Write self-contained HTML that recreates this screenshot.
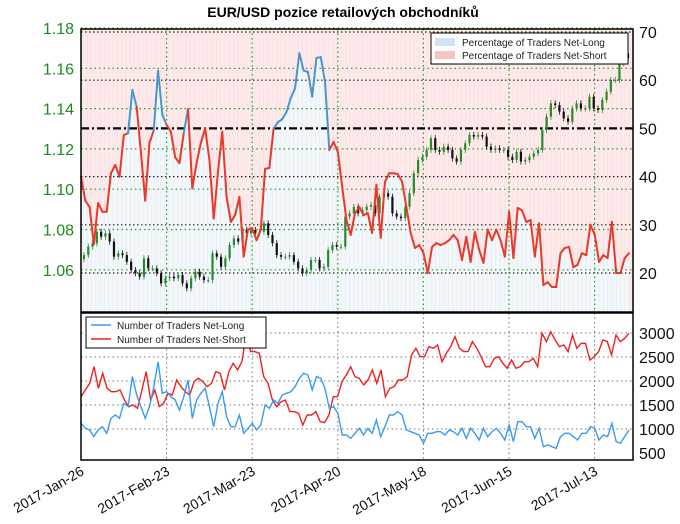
<!DOCTYPE html>
<html><head><meta charset="utf-8"><style>
body{margin:0;background:#fff;width:680px;height:519px;overflow:hidden}
svg text{font-family:"Liberation Sans",sans-serif}
</style></head><body>
<svg id="c" width="680" height="519"></svg>
<script>
const dateLabels=["2017-Jan-26","2017-Feb-23","2017-Mar-23","2017-Apr-20","2017-May-18","2017-Jun-15","2017-Jul-13"];
const leftTicks=[1.06,1.08,1.10,1.12,1.14,1.16,1.18];
const rightTicks=[20,30,40,50,60,70];
const bottomTicks=[500,1000,1500,2000,2500,3000];
const pctLong=[40,35,33.7,26,34.5,32.7,32.7,40.7,42.4,40,48.6,49,58,54.5,45,35,47,49.6,62,52.8,50.7,49.3,44,42.8,49,54,37.6,42.8,47,50,43.4,31.3,41,49.3,35.8,30.6,32,35.8,23.4,29,29.3,26.8,29,41.6,41.8,50,51.3,51.9,53.4,56.3,58.3,65.6,62,61.7,56.6,64.6,64.8,59.6,45.5,47.2,45.1,37.9,31,27.9,32.4,33.7,32,32.4,28.3,38.3,27.3,38.9,40.7,40.7,40.5,38.9,33.7,28.3,25.2,25.8,24.1,20,25.4,26.2,25.8,26.2,26.8,27.9,26.8,22.7,27.5,22.3,28.5,24.8,22.1,29,26.8,29,26.8,23.4,32.7,23.1,33.5,33,30.6,31,23.4,30.3,17.5,18.1,17.1,17.1,24.1,25.2,25.4,21.2,21.7,24.1,23.7,30,27.9,22.3,23.7,23.1,30.6,20,20,23.1,24.1];
const closes=[1.0673,1.0715,1.0732,1.0789,1.0764,1.0781,1.0740,1.0665,1.0682,1.0673,1.0640,1.0599,1.0583,1.0566,1.0657,1.0607,1.0607,1.0583,1.0533,1.0558,1.0566,1.0558,1.0574,1.0533,1.0508,1.0558,1.0591,1.0566,1.0549,1.0549,1.0682,1.0665,1.0615,1.0657,1.0723,1.0756,1.0740,1.0798,1.0781,1.0798,1.0781,1.0789,1.0831,1.0773,1.0732,1.0673,1.0665,1.0665,1.0673,1.0640,1.0607,1.0583,1.0599,1.0649,1.0649,1.0607,1.0615,1.0698,1.0723,1.0715,1.0715,
1.0864,1.0880,1.0913,1.0880,1.0897,1.0913,1.0922,1.0880,1.0963,1.0980,1.0963,1.0880,1.0864,1.0856,1.0913,1.0980,1.1079,1.1145,1.1161,1.1195,1.1253,1.1195,1.1186,1.1211,1.1195,1.1153,1.1137,1.1195,1.1228,1.1269,1.1261,1.1269,1.1261,1.1211,1.1195,1.1203,1.1195,1.1195,1.1161,1.1145,1.1186,1.1137,1.1145,1.1161,1.1178,1.1195,1.1294,1.1360,1.1426,1.1418,1.1385,1.1352,1.1335,1.1401,1.1426,1.1401,1.1401,1.1459,1.1401,1.1393,1.1443,1.1484,1.1542,1.1542,1.1625,1.1674,1.1650];
const netShort=[1674,1813,1952,2299,1848,2160,1848,1778,1778,1813,1605,1466,1501,1431,1813,2195,1605,1813,1466,1535,1744,1709,2021,1882,1778,1709,1987,2056,1987,1882,1952,2195,2160,1813,2195,2369,2230,2403,2994,2612,2612,2577,2091,1952,1605,1466,1570,1605,1362,1362,1327,1084,1292,1292,1362,1153,1133,1292,1674,1674,1987,2126,2299,2091,2056,1917,2021,2230,1952,2230,1674,1848,1882,2021,2021,2091,2542,2681,2507,2507,2716,2681,2751,2403,2577,2716,2924,2681,2612,2612,2820,2681,2507,2299,2299,2473,2507,2369,2264,2438,2264,2299,2403,2403,2473,2299,2994,2820,3028,2855,2716,2751,2612,2959,2681,2785,2785,2438,2507,2612,2855,2820,2542,2959,2820,2890,2994];
const netLong=[1119,1014,980,841,980,1049,910,1223,1292,1223,1535,1466,2091,1709,1466,1223,1466,1882,2403,1744,1778,1674,1605,1396,1674,2021,1223,1605,1744,1848,1466,1049,1535,1778,1258,1049,1049,1292,910,1014,1119,980,1084,1501,1431,1605,1535,1709,1744,1778,1882,2056,2160,2126,1813,2091,2056,1848,1431,1466,1327,876,876,806,910,1014,876,1014,910,1188,841,1049,1292,1292,1362,1292,980,945,910,876,702,910,910,945,945,876,980,945,876,1014,806,1014,910,771,1014,841,945,1014,910,771,1084,737,1153,1153,1049,1049,806,1014,632,667,632,598,841,910,910,841,771,910,910,1049,1014,771,876,841,1119,737,702,841,980];

const NS="http://www.w3.org/2000/svg",svg=document.getElementById('c');
function el(t,a,p){const e=document.createElementNS(NS,t);for(const k in a)e.setAttribute(k,a[k]);(p||svg).appendChild(e);return e;}
const X0=81,X1=633,T0=29,T1=312,B0=313,B1=460;
const yR=v=>32+(70-v)*4.82, yL=p=>28+(1.18-p)*2015, yB=v=>333+(3000-v)/20.83;
const xTick=i=>X0+i*85.6;
const xi=(i,n,a,b)=>a+i*(b-a)/(n-1);
const g=el('g',{});

el('rect',{x:X0,y:T0,width:X1-X0,height:T1-T0,fill:'#fde9e9'},g);
let n=pctLong.length,d=`M${X0},${T1}`;
pctLong.forEach((v,i)=>d+=` L${xi(i,n,X0,629).toFixed(1)},${yR(v).toFixed(1)}`);
d+=` L629,${T1} Z`;
const fa=el('path',{d,fill:'#f1f7fb'},g);

for(let x=X0+2;x<X1;x+=4.3)el('line',{x1:x,x2:x,y1:T0,y2:T1,stroke:'#e0c8c8','stroke-width':0.5,'stroke-opacity':0.35},g);
leftTicks.forEach(p=>el('line',{x1:X0,x2:X1,y1:yL(p),y2:yL(p),stroke:'#2a9a2a','stroke-dasharray':'1.5,3','stroke-width':1.2},g));
rightTicks.forEach(v=>{if(v!==50)el('line',{x1:X0,x2:X1,y1:yR(v),y2:yR(v),stroke:'#222','stroke-dasharray':'1.5,2.5','stroke-width':1.2},g)});
dateLabels.forEach((t,i)=>{const x=xTick(i);el('line',{x1:x,x2:x,y1:T0,y2:T1,stroke:'#2a9a2a','stroke-dasharray':'1.5,3','stroke-width':1.2},g);});
const fl=el('line',{x1:X0,x2:X1,y1:yR(50),y2:yR(50),stroke:'#000','stroke-width':2.2,'stroke-dasharray':'8,3,2,3'},g);

const nc=closes.length;
closes.forEach((c,i)=>{const o=i?closes[i-1]:c-0.002,x=xi(i,nc,X0+3,628),up=c>=o,col=up?'#2a8a2a':'#111';
 const hi=Math.max(o,c)+0.0015,lo=Math.min(o,c)-0.0015;
 const w=el('line',{x1:x,x2:x,y1:yL(hi),y2:yL(lo),stroke:col,'stroke-width':0.8},g);
 
 const r=el('rect',{x:x-1.1,y:Math.min(yL(o),yL(c)),width:2.2,height:Math.max(1,Math.abs(yL(o)-yL(c))),fill:col},g);
 });
for(let i=1;i<n;i++){const a=pctLong[i-1],b=pctLong[i];const s=el('line',{x1:xi(i-1,n,X0,629),y1:yR(a),x2:xi(i,n,X0,629),y2:yR(b),stroke:(a+b)/2>50?'#4a96c8':'#e8392a','stroke-width':2,'stroke-linecap':'round'},g);
 }
el('rect',{x:X0,y:T0,width:X1-X0,height:T1-T0,fill:'none',stroke:'#000','stroke-width':1.5},g);
leftTicks.forEach(p=>{const t=el('text',{x:74,y:yL(p)+6,'text-anchor':'end','font-size':16,fill:'#1f8a1f'});t.textContent=p.toFixed(2);
 });
rightTicks.forEach(v=>{const t=el('text',{x:639,y:yR(v)+6,'font-size':16,fill:'#111'});t.textContent=v;
 });
const ti=el('text',{x:343,y:17,'text-anchor':'middle','font-size':14,'font-weight':'bold'});ti.textContent='EUR/USD pozice retailových obchodníků';

const lg=el('g',{});
el('rect',{x:431,y:33,width:197,height:31,fill:'#fff',stroke:'#000','stroke-width':1},lg);
el('rect',{x:435,y:38,width:20,height:8,fill:'#cfe3f5'},lg);
el('rect',{x:435,y:51,width:20,height:8,fill:'#f7c4c4'},lg);
let t1=el('text',{x:462,y:46,'font-size':10,fill:'#222'},lg);t1.textContent='Percentage of Traders Net-Long';
let t2=el('text',{x:462,y:59,'font-size':10,fill:'#222'},lg);t2.textContent='Percentage of Traders Net-Short';
const b=el('g',{});
el('rect',{x:X0,y:B0,width:X1-X0,height:B1-B0,fill:'#fff'},b);
bottomTicks.forEach(v=>{if(v>500)el('line',{x1:X0,x2:X1,y1:yB(v),y2:yB(v),stroke:'#777','stroke-dasharray':'1.5,3'},b);
 const t=el('text',{x:639,y:yB(v)+6,'font-size':16,fill:'#111'},b);t.textContent=v;
 });
dateLabels.forEach((s,i)=>{const x=xTick(i);el('line',{x1:x,x2:x,y1:B0,y2:B1,stroke:'#777','stroke-dasharray':'1.5,3'},b);
 const t=el('text',{x:x+4,y:B1+14,'text-anchor':'end','font-size':14,fill:'#111',transform:`rotate(-30 ${x+4} ${B1+14})`},b);t.textContent=s;
 });
function line(arr,col,name){const m=arr.length;let p='';arr.forEach((v,i)=>p+=(i?' L':'M')+xi(i,m,X0,629).toFixed(1)+','+yB(v).toFixed(1));
 const e=el('path',{d:p,fill:'none',stroke:col,'stroke-width':1.4},b);}
line(netShort,'#f02020','net-short-line');line(netLong,'#3a9af0','net-long-line');
el('rect',{x:X0,y:B0,width:X1-X0,height:B1-B0,fill:'none',stroke:'#000','stroke-width':1.5},b);
const lb=el('g',{});
el('rect',{x:86,y:317,width:180,height:31,fill:'#fff',stroke:'#000','stroke-width':1},lb);
el('line',{x1:91,x2:111,y1:325,y2:325,stroke:'#3a9af0','stroke-width':1.4},lb);
el('line',{x1:91,x2:111,y1:339,y2:339,stroke:'#f02020','stroke-width':1.4},lb);
let t3=el('text',{x:117,y:329,'font-size':10,fill:'#222'},lb);t3.textContent='Number of Traders Net-Long';
let t4=el('text',{x:117,y:343,'font-size':10,fill:'#222'},lb);t4.textContent='Number of Traders Net-Short';
</script>
</body></html>
